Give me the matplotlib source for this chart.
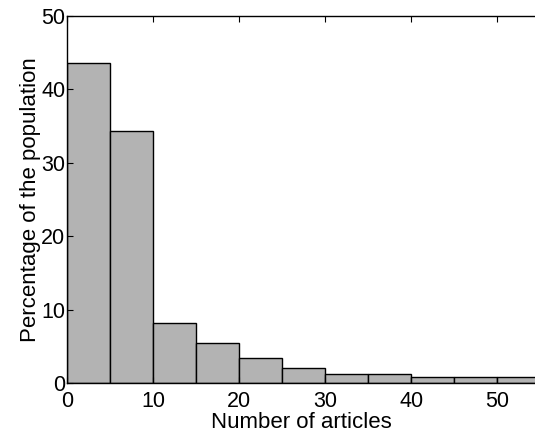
import numpy as np
import matplotlib.pyplot as plt

plt.rcParams['font.family'] = ['Liberation Sans', 'DejaVu Sans']

# histogram of articles per author, bins of width 5
bin_edges = [0, 5, 10, 15, 20, 25, 30, 35, 40, 45, 50, 55]
percent = [43.6, 34.4, 8.2, 5.5, 3.4, 2.0, 1.2, 1.2, 0.8, 0.8, 0.85]

fig = plt.figure(figsize=(5.35, 4.33), dpi=100)
ax = fig.add_axes([0.125, 0.1155, 0.875, 0.8475])

left = np.array(bin_edges[:-1])
widths = np.diff(bin_edges)
ax.bar(left, percent, width=widths, align='edge', color='#b3b3b3',
       edgecolor='black', linewidth=1.0)

ax.set_xlim(0, 54.4)
ax.set_ylim(0, 50)
ax.set_xticks([0, 10, 20, 30, 40, 50])
ax.set_yticks([0, 10, 20, 30, 40, 50])
ax.tick_params(direction='in', top=True, right=False, length=4,
               labelsize=15.5)
ax.tick_params(axis='x', pad=6)
ax.tick_params(axis='y', pad=1)
ax.spines['right'].set_visible(False)
for s in ax.spines.values():
    s.set_linewidth(1.0)

ax.set_xlabel('Number of articles', fontsize=16, labelpad=0)
ax.set_ylabel('Percentage of the population', fontsize=16, labelpad=0)

fig.savefig('out.png', dpi=100)
